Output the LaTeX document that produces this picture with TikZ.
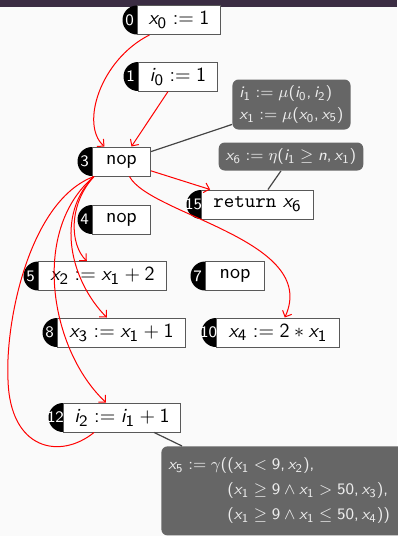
\documentclass[tikz,border=0pt]{standalone}
\usepackage{amsmath,amssymb}
\renewcommand{\familydefault}{\sfdefault}
\usepackage[italic]{mathastext}
\usepackage{tikz}
\usetikzlibrary{positioning, calc, arrows.meta}
\definecolor{pagebg}{HTML}{FAFAFA}
\definecolor{barcol}{HTML}{3B2D43}
\definecolor{notefill}{HTML}{666666}
\definecolor{notetext}{HTML}{EDEDED}
\definecolor{linkcol}{HTML}{454545}

\begin{document}
\begin{tikzpicture}[
    x=0.5pt, y=-0.5pt,
    font=\sffamily,
    tag/.style={circle, fill=black, minimum size=14.5pt, inner sep=0pt},
    num/.style={anchor=center, xshift=-3.75pt, text=white, inner sep=0pt, font=\sffamily\footnotesize},
    stm/.style={rectangle, draw=black!65, fill=white, line width=0.5pt, minimum height=14.5pt, inner sep=2pt, align=center},
    note/.style={rectangle, rounded corners=3pt, fill=notefill, text=notetext, align=left, inner xsep=3.5pt, inner ysep=3pt, font=\sffamily\footnotesize},
    arr/.style={->, >={Straight Barb[length=2.5pt, width=5pt]}, red, line width=0.5pt},
    link/.style={linkcol, line width=0.6pt}
]
\fill[pagebg] (0,0) rectangle (397,536);
\fill[barcol] (0,0) rectangle (397,7);
\useasboundingbox (0,0) rectangle (397,536);

\node[tag] (t0) at (137,20) {};
\node[stm, right=0pt of t0.center, minimum width=41.5pt, label={[num]west:0}] (n0) {$x_0 := 1$};
\node[tag] (t1) at (138,76.5) {};
\node[stm, right=0pt of t1.center, minimum width=39.5pt, label={[num]west:1}] (n1) {$i_0 := 1$};
\node[tag] (t3) at (92,161.5) {};
\node[stm, right=0pt of t3.center, minimum width=29pt, label={[num]west:3}] (n3) {nop};
\node[tag] (t4) at (92,219.5) {};
\node[stm, right=0pt of t4.center, minimum width=29pt, label={[num]west:4}] (n4) {nop};
\node[tag] (t15) at (201,204.5) {};
\node[stm, right=0pt of t15.center, minimum width=56pt, label={[num]west:15}] (n15) {\texttt{return} $x_6$};
\node[tag] (t5) at (38,276) {};
\node[stm, right=0pt of t5.center, minimum width=64pt, label={[num]west:5}] (n5) {$x_2 := x_1 + 2$};
\node[tag] (t7) at (205,276) {};
\node[stm, right=0pt of t7.center, minimum width=29.5pt, label={[num]west:7}] (n7) {nop};
\node[tag] (t8) at (57,332.5) {};
\node[stm, right=0pt of t8.center, minimum width=64pt, label={[num]west:8}] (n8) {$x_3 := x_1 + 1$};
\node[tag] (t10) at (216,332.5) {};
\node[stm, right=0pt of t10.center, minimum width=61.5pt, label={[num]west:10}] (n10) {$x_4 := 2 * x_1$};
\node[tag] (t12) at (63,417.5) {};
\node[stm, right=0pt of t12.center, minimum width=58.5pt, label={[num]west:12}] (n12) {$i_2 := i_1 + 1$};

\node[note] (mu) at (291.5,104.5) {$i_1 := \mu(i_0, i_2)$\\[1.5pt]$x_1 := \mu(x_0, x_5)$};
\node[note] (eta) at (291,156.5) {$x_6 := \eta(i_1 \geq n, x_1)$};
\node[note, anchor=north west, text width=140pt, minimum height=44.5pt] (gam) at (161,446) {$x_5 := \gamma((x_1 < 9, x_2),$\\[3pt]\phantom{$x_5 := \gamma($}$(x_1 \geq 9 \wedge x_1 > 50, x_3),$\\[3pt]\phantom{$x_5 := \gamma($}$(x_1 \geq 9 \wedge x_1 \leq 50, x_4))$};

\draw[link] (n3) -- (mu);
\draw[link] (n15) -- (eta);
\draw[link] (n12.-25) -- ($(gam.north west)+(21,0)$);

\draw[arr] (n0) .. controls (100,60) and (80,125) .. (n3);
\draw[arr] (n1) -- (n3);
\draw[arr] (n3) -- (n15);
\draw[arr] (n3) .. controls (150,215) and (320,240) .. (n10);
\draw[arr] ($(n3.south west)+(2,0)$) .. controls (68,205) and (70,245) .. (n5);
\draw[arr] ($(n3.south west)+(2,0)$) .. controls (55,215) and (70,280) .. (n8);
\draw[arr] ($(n3.south west)+(2,0)$) .. controls (30,230) and (50,350) .. (n12);
\draw[red, line width=0.5pt] ($(n12.south)+(-28,0)$) .. controls (60,460) and (10,450) .. (8,380) .. controls (5,320) and (30,200) .. ($(n3.south west)+(2,0)$);
\end{tikzpicture}
\end{document}
